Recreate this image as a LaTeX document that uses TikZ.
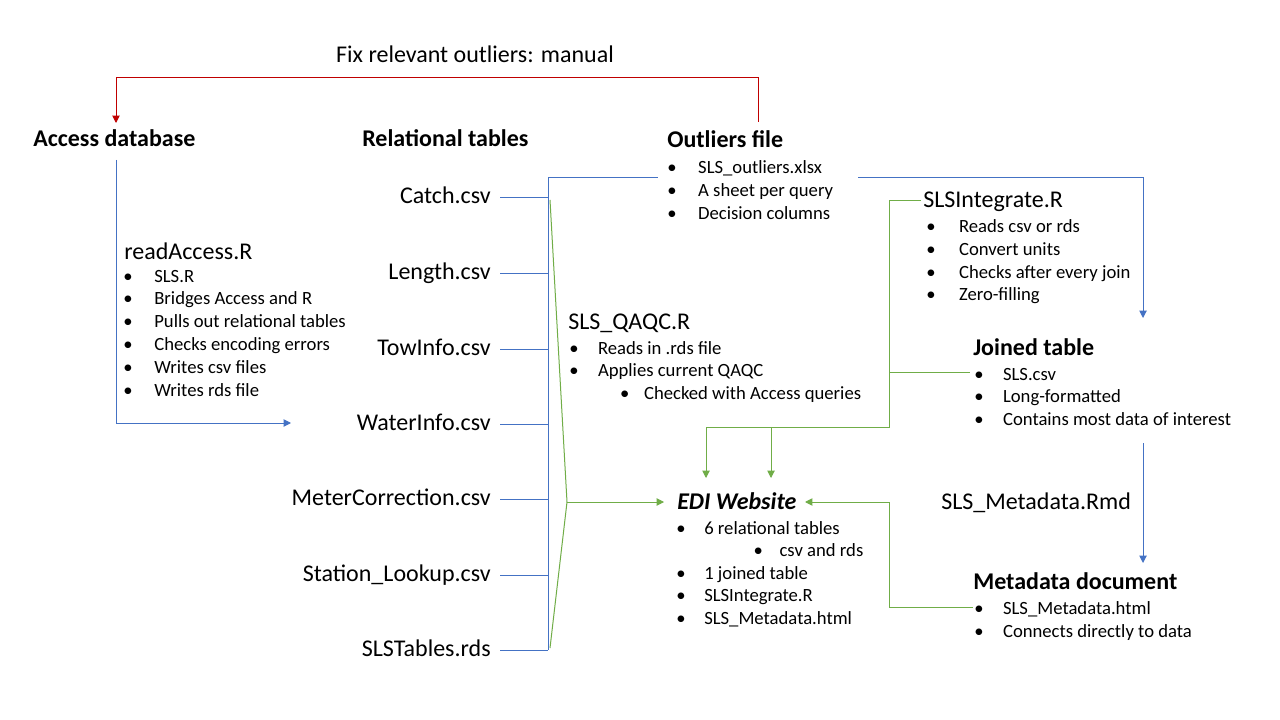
\documentclass[tikz,border=0pt]{standalone}
\usepackage{fontspec}
\setmainfont{Carlito}
\usetikzlibrary{arrows.meta}
\definecolor{cblue}{HTML}{4472C4}
\definecolor{cgreen}{HTML}{70AD47}
\definecolor{cred}{HTML}{C00000}
\newcommand{\blist}[2]{\begin{tabular}[t]{@{}p{#1}@{}l@{}}#2\end{tabular}}
\begin{document}
\begin{tikzpicture}[x=0.75pt,y=-0.75pt,
 hd/.style={font=\fontsize{18}{21.6}\selectfont\bfseries, inner sep=0, anchor=base west},
 tx/.style={font=\fontsize{18}{21.6}\selectfont, inner sep=0, anchor=base west},
 lst/.style={font=\fontsize{14}{16.9}\selectfont, inner sep=0, anchor=base west},
 ln/.style={line width=0.75pt},
 tip/.style={-{Triangle[length=5.5pt,width=5.5pt]}},
]
\useasboundingbox[fill=white] (0,0) rectangle (1280,720);

% texts
\node[tx, anchor=base] (fix) at (475,63) {Fix relevant outliers: manual};
\node[hd] (acc) at (33,147) {Access database};
\node[tx] (ra) at (124,259) {readAccess.R};
\node[lst, font=\fontsize{14}{17.2}\selectfont] (ral) at (123,282) {\blist{23.3pt}{•&SLS.R\\•&Bridges Access and R\\•&Pulls out relational tables\\•&Checks encoding errors\\•&Writes csv files\\•&Writes rds file}};
\node[hd] (rel) at (362,147) {Relational tables};
\node[tx, anchor=base east] (t1) at (491,204) {Catch.csv};
\node[tx, anchor=base east] (t2) at (491,279) {Length.csv};
\node[tx, anchor=base east] (t3) at (491,355) {TowInfo.csv};
\node[tx, anchor=base east] (t4) at (491,430) {WaterInfo.csv};
\node[tx, anchor=base east] (t5) at (491,505) {MeterCorrection.csv};
\node[tx, anchor=base east] (t6) at (491,581) {Station\_Lookup.csv};
\node[tx, anchor=base east] (t7) at (491,656) {SLSTables.rds};
\node[hd] (out) at (667,148) {Outliers file};
\node[lst] (outl) at (667,174) {\blist{23.2pt}{•&SLS\_outliers.xlsx\\•&A sheet per query\\•&Decision columns}};
\node[tx] (qa) at (568,329) {SLS\_QAQC.R};
\node[lst] (qal) at (569,354) {\blist{21.6pt}{•&Reads in .rds file\\•&Applies current QAQC\\&\hspace{16.5pt}\makebox[18pt][l]{•}Checked with Access queries}};
\node[tx] (si) at (923,208) {SLSIntegrate.R};
\node[lst] (sil) at (926,233) {\blist{24.6pt}{•&Reads csv or rds\\•&Convert units\\•&Checks after every join\\•&Zero-filling}};
\node[hd] (jt) at (973,355) {Joined table};
\node[lst] (jtl) at (974,380) {\blist{21.6pt}{•&SLS.csv\\•&Long-formatted\\•&Contains most data of interest}};
\node[tx] (mdr) at (941,509) {SLS\_Metadata.Rmd};
\node[hd] (mdoc) at (973,589) {Metadata document};
\node[lst] (mdl) at (974,614.5) {\blist{21.6pt}{•&SLS\_Metadata.html\\•&Connects directly to data}};
\node[hd, font=\fontsize{18}{21.6}\selectfont\bfseries\itshape] (edi) at (677,509) {EDI Website};
\node[lst] (edil) at (676,534) {\blist{21pt}{•&6 relational tables\\&\hspace{37pt}\makebox[19.5pt][l]{•}csv and rds\\•&1 joined table\\•&SLSIntegrate.R\\•&SLS\_Metadata.html}};

% coordinates
\coordinate (rA) at (758,122);
\coordinate (rB) at (116,123);
\coordinate (aTop) at (116,160);
\coordinate (aEnd) at (291,423);
\coordinate (bx) at (548,0);
\coordinate (oL) at (658,178);
\coordinate (oR) at (858,178);
\coordinate (jIn) at (1143,318);
\coordinate (jOut) at (1143,443);
\coordinate (mIn) at (1143,563);
\coordinate (gTop) at (550,200);
\coordinate (gBot) at (550,648);
\coordinate (gM) at (567,502);
\coordinate (eIn) at (664,502);
\coordinate (sL) at (921,201);
\coordinate (gC) at (889,427);
\coordinate (jB) at (970,372);
\coordinate (e1) at (706,478);
\coordinate (e2) at (771,478);
\coordinate (mB) at (973,607);
\coordinate (eR) at (805,502);

% red
\draw[ln, cred, tip] (rA) |- (116,78) -- (rB);
% blue
\draw[ln, cblue, tip] (aTop) |- (aEnd);
\foreach \n in {t1,t2,t3,t4,t5,t6,t7} \draw[ln, cblue] ([xshift=6.75pt,yshift=4.5pt]\n.base east) -- ([yshift=4.5pt]\n.base east -| bx);
\draw[ln, cblue] ([yshift=4.5pt]t7.base east -| bx) -- (bx |- oL) -- (oL);
\draw[ln, cblue, tip] (oR) -| (jIn);
\draw[ln, cblue, tip] (jOut) -- (mIn);
% green
\draw[ln, cgreen] (gTop) -- (gM) -- (gBot);
\draw[ln, cgreen, tip] (gM) -- (eIn);
\draw[ln, cgreen] (sL) -| (gC) -- (e1 |- gC);
\draw[ln, cgreen, tip] (e1 |- gC) -- (e1);
\draw[ln, cgreen, tip] (e2 |- gC) -- (e2);
\draw[ln, cgreen] (gC |- jB) -- (jB);
\draw[ln, cgreen, tip] (mB) -| (gC |- eR) -- (eR);
\end{tikzpicture}
\end{document}
